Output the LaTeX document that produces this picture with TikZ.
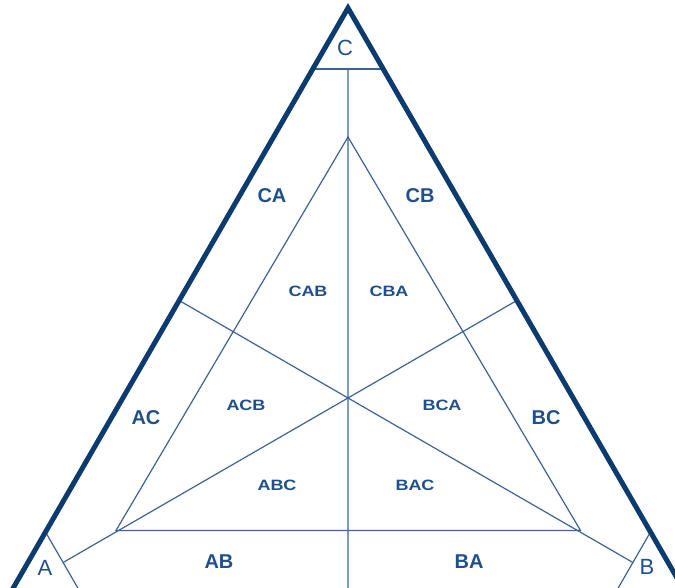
\documentclass[tikz,border=0pt]{standalone}
\usepackage{fontspec}
\setmainfont{Liberation Sans}
\definecolor{outerc}{RGB}{11,59,111}
\definecolor{thinc}{RGB}{62,98,148}
\definecolor{vertc}{RGB}{125,155,188}
\definecolor{txtc}{RGB}{31,79,141}
\newcommand\widetxt[1]{\scalebox{1.2}[1]{#1}}
\begin{document}
\begin{tikzpicture}[x=1pt,y=-1pt,
  outerline/.style={draw=outerc,line width=5pt,line join=miter},
  thinline/.style={draw=thinc,line width=1.2pt},
  vertline/.style={draw=vertc,line width=2.2pt},
  lbl/.style={text=txtc,font=\bfseries\fontsize{20}{20}\selectfont,inner sep=0pt},
  lbls/.style={text=txtc,font=\bfseries\fontsize{15}{15}\selectfont,inner sep=0pt},
  corner/.style={text=txtc,font=\fontsize{22}{22}\selectfont,inner sep=0pt}]
\useasboundingbox (0,0) rectangle (675,588);
\clip (0,0) rectangle (675,588);
% vertices and key points
\coordinate (A) at (10.3,593);
\coordinate (B) at (685.7,593);
\coordinate (C) at (348,8);
\coordinate (O) at (348,398);
\coordinate (mCA) at (179.2,300.5);
\coordinate (mCB) at (516.8,300.5);
\coordinate (mAB) at (348,593);
\coordinate (cC) at (348,69);
\coordinate (cA) at (63.1,562.5);
\coordinate (cB) at (632.9,562.5);
\coordinate (cC1) at (312.8,69);
\coordinate (cC2) at (383.2,69);
\coordinate (cA1) at (45.5,532);
\coordinate (cA2) at (80.7,593);
\coordinate (cB1) at (650.5,532);
\coordinate (cB2) at (615.3,593);
\coordinate (iC) at (348,137);
\coordinate (iA) at (116,530.5);
\coordinate (iB) at (580.5,530.5);
% medians
\draw[vertline] (cC) -- (mAB);
\draw[thinline] (mCA) -- (cB);
\draw[thinline] (mCB) -- (cA);
% corner cuts
\draw[thinline] (cC1) -- (cC2);
\draw[thinline] (cA1) -- (cA2);
\draw[thinline] (cB1) -- (cB2);
% inner triangle
\draw[thinline] (iC) -- (iA) -- (iB) -- cycle;
% outer triangle
\draw[outerline] (A) -- (C) -- (B) -- cycle;
% labels
\node[corner] (lC) at (345,48) {C};
\node[corner] (lA) at (45,568) {A};
\node[corner] (lB) at (647,567) {B};
\node[lbl] (lCA) at (272,196) {CA};
\node[lbl] (lCB) at (420,196) {CB};
\node[lbl] (lAC) at (146,418) {AC};
\node[lbl] (lBC) at (546,418) {BC};
\node[lbl] (lAB) at (219,562) {AB};
\node[lbl] (lBA) at (469,562) {BA};
\node[lbls] (lCAB) at (308,291) {\widetxt{CAB}};
\node[lbls] (lCBA) at (389,291) {\widetxt{CBA}};
\node[lbls] (lACB) at (246,405) {\widetxt{ACB}};
\node[lbls] (lBCA) at (442,405) {\widetxt{BCA}};
\node[lbls] (lABC) at (277,485) {\widetxt{ABC}};
\node[lbls] (lBAC) at (415,485) {\widetxt{BAC}};
\end{tikzpicture}
\end{document}
